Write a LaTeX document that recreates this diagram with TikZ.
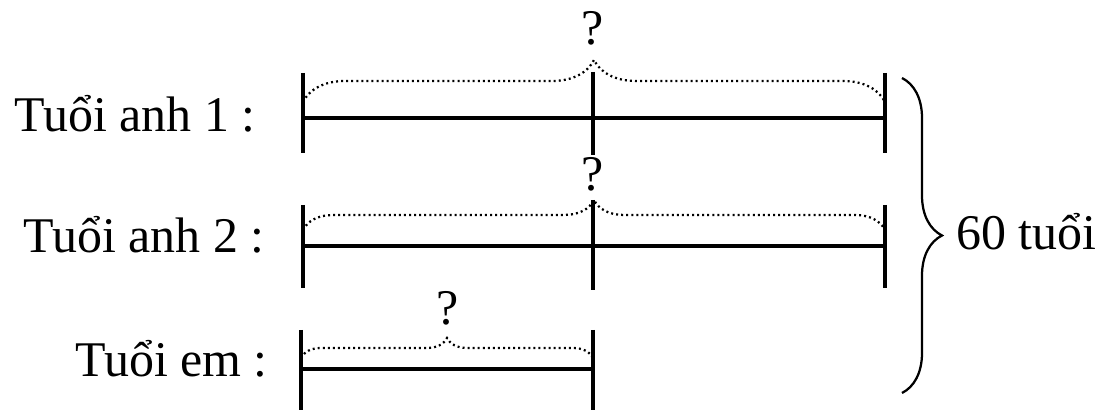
\documentclass[tikz,border=0pt]{standalone}
\usepackage{fontspec}
\setmainfont{Liberation Serif}
\usetikzlibrary{decorations.pathreplacing}
\tikzset{every node/.style={font=\fontsize{35.5}{40}\selectfont,inner sep=0pt},
 seg/.style={line width=2.2pt},tick/.style={line width=2.4pt},
 dotbrace/.style={line width=1.6pt,dash pattern=on 1.4pt off 2.2pt,decorate,decoration={brace}},
 sumbrace/.style={line width=1.6pt,decorate,decoration={brace,amplitude=1cm}}}

\begin{document}
\begin{tikzpicture}[x=0.025cm,y=-0.025cm]
\useasboundingbox (0,0) rectangle (1100,411);
% anh 1
\node[anchor=base east] (a1) at (256,132){Tuổi anh 1 :};
\coordinate (a1l) at (303,118); \coordinate (a1m) at (593,118); \coordinate (a1r) at (885,118);
\draw[seg] (a1l)--(a1r);
\draw[tick] (303,73)--(303,153) (593,72)--(593,155) (885,73)--(885,153);
\draw[dotbrace,decoration={amplitude=1.05cm}] (303,102)--(885,102);
\node[anchor=base] (q1) at (593,45){?};
% anh 2
\node[anchor=base east] (a2) at (265,253){Tuổi anh 2 :};
\coordinate (a2l) at (303,246); \coordinate (a2r) at (885,246);
\draw[seg] (a2l)--(a2r);
\draw[tick] (303,205)--(303,288) (593,200)--(593,290) (885,205)--(885,288);
\draw[dotbrace,decoration={amplitude=0.75cm}] (303,230)--(885,230);
\node[anchor=base] (q2) at (593,191){?};
% em
\node[anchor=base east] (e) at (268,377){Tuổi em :};
\coordinate (el) at (301,369); \coordinate (er) at (593,369);
\draw[seg] (el)--(er);
\draw[tick] (301,330)--(301,410) (593,330)--(593,410);
\draw[dotbrace,decoration={amplitude=0.5cm}] (301,358)--(593,358);
\node[anchor=base] (q3) at (448,325){?};
% tong
\draw[sumbrace] (902,78)--(902,393);
\node[anchor=base west] (t) at (956,250){60 tuổi};
\end{tikzpicture}
\end{document}
